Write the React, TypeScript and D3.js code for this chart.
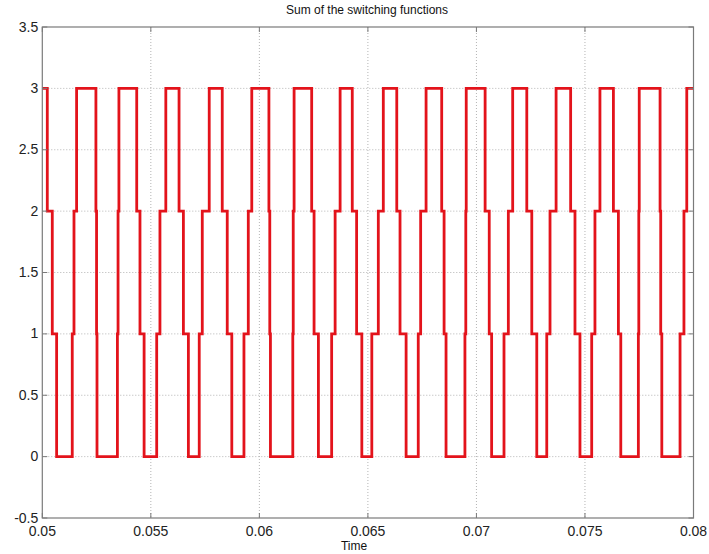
import React, { useEffect, useRef } from "react";
import * as d3 from "d3";

// times (s) where the summed switching function changes level
const switchTimes: number[] = [
  0.05023, 0.05046, 0.05066, 0.05138, 0.05146, 0.05158, 0.05247, 0.0525, 0.05252,
  0.05346, 0.05349, 0.05353, 0.05435, 0.0545, 0.05469, 0.05527, 0.05542, 0.05569,
  0.0563, 0.0565, 0.05673, 0.05723, 0.05737, 0.05769, 0.05829, 0.05852, 0.05873,
  0.05929, 0.05949, 0.05965, 0.06044, 0.06048, 0.06051, 0.06154, 0.06156, 0.0616,
  0.06241, 0.06252, 0.06272, 0.06333, 0.06349, 0.06372, 0.06428, 0.06448, 0.06472,
  0.06518, 0.06548, 0.06571, 0.06633, 0.06648, 0.06676, 0.06732, 0.06743, 0.06768,
  0.0684, 0.06851, 0.0686, 0.06947, 0.06951, 0.06953, 0.0704, 0.07059, 0.0707,
  0.07127, 0.07147, 0.07167, 0.07232, 0.07255, 0.07278, 0.07324, 0.07339, 0.07367,
  0.07434, 0.07454, 0.07477, 0.07531, 0.07546, 0.07569, 0.07631, 0.07654, 0.07665,
  0.07746, 0.07748, 0.0775, 0.07846, 0.07849, 0.07854, 0.07938, 0.07956, 0.07969,
];

// level held from the start (0.05) and after each switch time
const levels: number[] = [
  3, 2, 1, 0, 1, 2, 3, 2, 1, 0, 1, 2, 3, 2, 1, 0, 1, 2, 3, 2, 1, 0, 1, 2, 3, 2, 1, 0,
  1, 2, 3, 2, 1, 0, 1, 2, 3, 2, 1, 0, 1, 2, 3, 2, 1, 0, 1, 2, 3, 2, 1, 0, 1, 2, 3, 2,
  1, 0, 1, 2, 3, 2, 1, 0, 1, 2, 3, 2, 1, 0, 1, 2, 3, 2, 1, 0, 1, 2, 3, 2, 1, 0, 1, 2,
  3, 2, 1, 0, 1, 2, 3,
];

const xTicks: number[] = [0.05, 0.055, 0.06, 0.065, 0.07, 0.075, 0.08];
const yTicks: number[] = [-0.5, 0, 0.5, 1, 1.5, 2, 2.5, 3, 3.5];

const App: React.FC = () => {
  const ref = useRef<SVGSVGElement | null>(null);

  useEffect(() => {
    const W = 709,
      H = 554;
    const left = 42.3,
      right = 693.5,
      top = 27,
      bottom = 518;

    const svg = d3.select(ref.current);
    svg.selectAll("*").remove();

    svg.append("rect").attr("width", W).attr("height", H).attr("fill", "#fff");

    const x = d3.scaleLinear().domain([0.05, 0.08]).range([left, right]);
    const y = d3.scaleLinear().domain([-0.5, 3.5]).range([bottom, top]);

    const font = "Liberation Sans, Arial, Helvetica, sans-serif";

    // grid
    const grid = svg.append("g");
    grid
      .selectAll("line.gx")
      .data(xTicks.slice(1, -1))
      .join("line")
      .attr("x1", (d) => x(d))
      .attr("x2", (d) => x(d))
      .attr("y1", top)
      .attr("y2", bottom)
      .attr("stroke", "#b4b4b4")
      .attr("stroke-width", 1)
      .attr("stroke-dasharray", "1,2");
    grid
      .selectAll("line.gy")
      .data(yTicks.slice(1, -1))
      .join("line")
      .attr("x1", left)
      .attr("x2", right)
      .attr("y1", (d) => y(d))
      .attr("y2", (d) => y(d))
      .attr("stroke", "#b4b4b4")
      .attr("stroke-width", 1)
      .attr("stroke-dasharray", "1,2");

    // step data
    const pts: [number, number][] = levels.map((lv, i) => [
      i === 0 ? 0.05 : switchTimes[i - 1],
      lv,
    ]);
    pts.push([0.08, levels[levels.length - 1]]);

    const line = d3
      .line<[number, number]>()
      .x((d) => x(d[0]))
      .y((d) => y(d[1]))
      .curve(d3.curveStepAfter);

    svg
      .append("path")
      .datum(pts)
      .attr("d", line)
      .attr("fill", "none")
      .attr("stroke", "#e3131b")
      .attr("stroke-width", 2.8)
      .attr("stroke-linejoin", "miter");

    // box
    svg
      .append("rect")
      .attr("x", left)
      .attr("y", top)
      .attr("width", right - left)
      .attr("height", bottom - top)
      .attr("fill", "none")
      .attr("stroke", "#7a7a7a")
      .attr("stroke-width", 1.2);

    const tl = 5;
    const ticks = svg.append("g").attr("stroke", "#7a7a7a").attr("stroke-width", 1);
    xTicks.forEach((t) => {
      ticks.append("line").attr("x1", x(t)).attr("x2", x(t)).attr("y1", bottom).attr("y2", bottom - tl);
      ticks.append("line").attr("x1", x(t)).attr("x2", x(t)).attr("y1", top).attr("y2", top + tl);
    });
    yTicks.forEach((t) => {
      ticks.append("line").attr("x1", left).attr("x2", left + tl).attr("y1", y(t)).attr("y2", y(t));
      ticks.append("line").attr("x1", right).attr("x2", right - tl).attr("y1", y(t)).attr("y2", y(t));
    });

    // tick labels
    svg
      .selectAll("text.xl")
      .data(xTicks)
      .join("text")
      .attr("x", (d) => x(d))
      .attr("y", bottom + 18)
      .attr("text-anchor", "middle")
      .attr("font-family", font)
      .attr("font-size", 14)
      .attr("fill", "#222")
      .text((d) => String(d));

    svg
      .selectAll("text.yl")
      .data(yTicks)
      .join("text")
      .attr("x", left - 4)
      .attr("y", (d) => y(d) + 4.5)
      .attr("text-anchor", "end")
      .attr("font-family", font)
      .attr("font-size", 14)
      .attr("fill", "#222")
      .text((d) => String(d));

    svg
      .append("text")
      .attr("x", 367)
      .attr("y", 14)
      .attr("text-anchor", "middle")
      .attr("font-family", font)
      .attr("font-size", 12)
      .attr("fill", "#111")
      .text("Sum of the switching functions");

    svg
      .append("text")
      .attr("x", 354)
      .attr("y", 550)
      .attr("text-anchor", "middle")
      .attr("font-family", font)
      .attr("font-size", 12)
      .attr("fill", "#111")
      .text("Time");
  }, []);

  return (
    <svg
      ref={ref}
      width={709}
      height={554}
      style={{ position: "absolute", left: 0, top: 0, display: "block" }}
    />
  );
};

export default App;
